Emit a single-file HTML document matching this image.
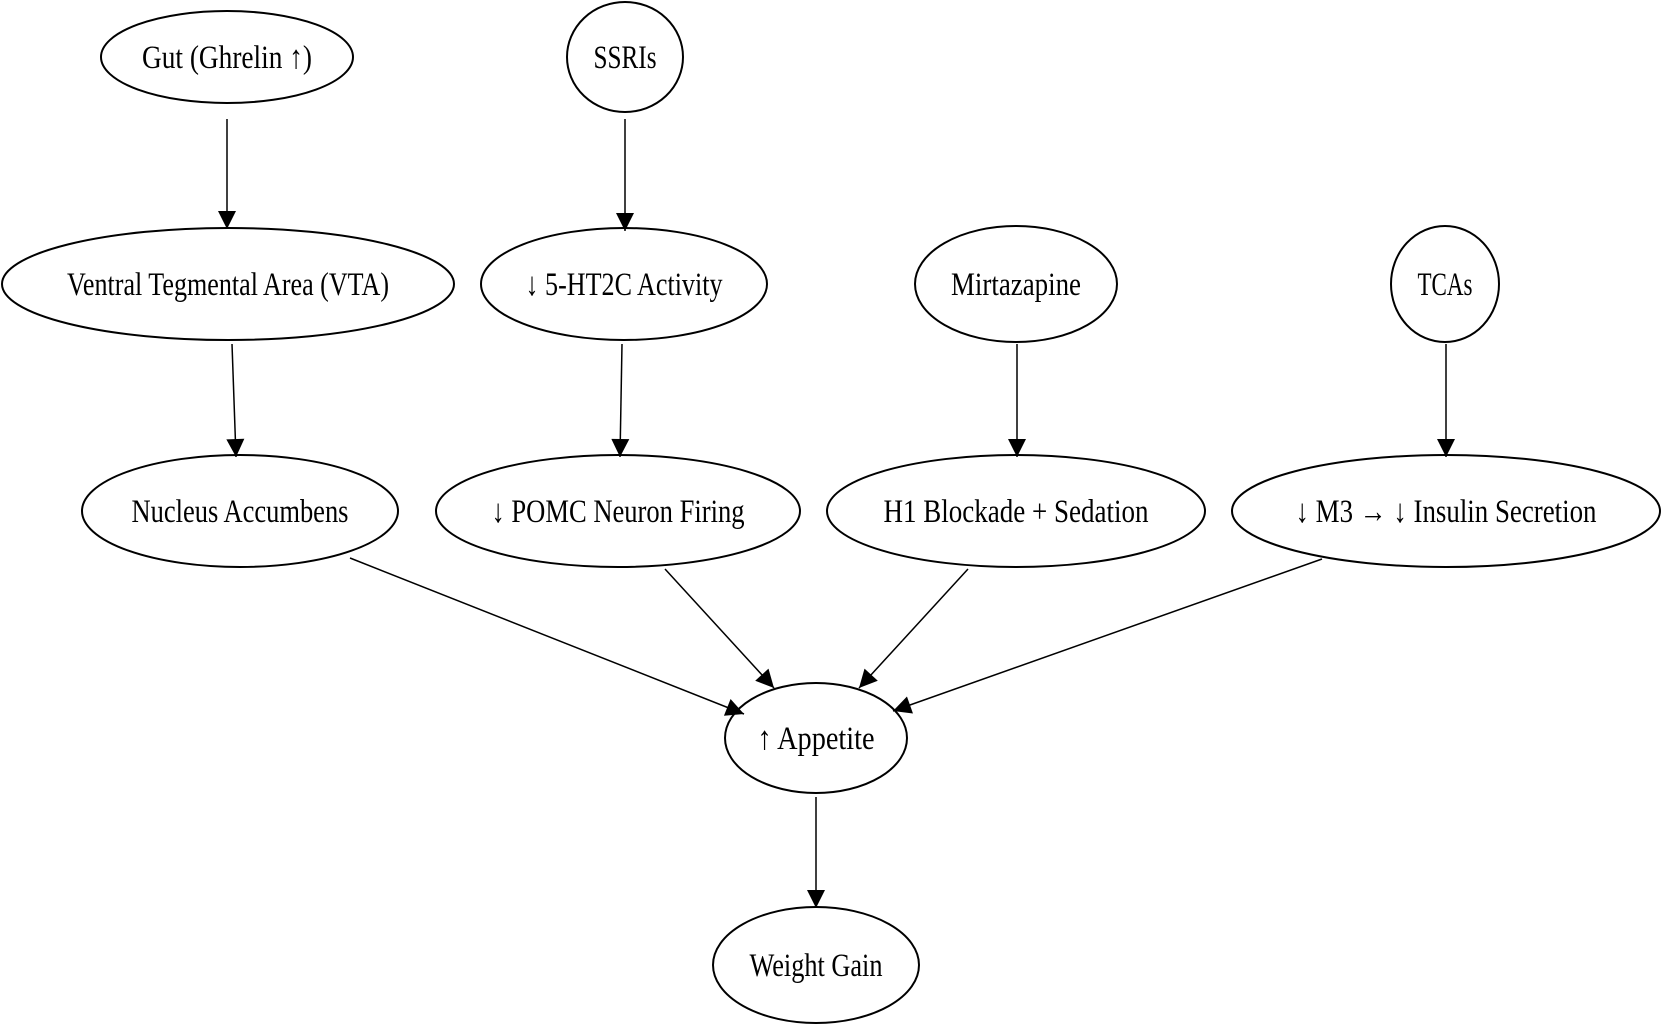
<!DOCTYPE html>
<html><head><meta charset="utf-8"><style>html,body{margin:0;padding:0;background:#fff}svg{display:block}</style></head>
<body>
<svg width="1661" height="1026" viewBox="0 0 1661 1026" xmlns="http://www.w3.org/2000/svg">
<defs><marker id="a" viewBox="0 0 10 10" refX="10" refY="5" markerWidth="10" markerHeight="10" markerUnits="userSpaceOnUse" orient="auto"><path d="M0,0 L10,5 L0,10 z" fill="#000"/></marker>
<marker id="b" viewBox="0 0 10 10" refX="10" refY="5" markerWidth="22" markerHeight="18" markerUnits="userSpaceOnUse" orient="auto"><path d="M0,0 L10,5 L0,10 z" fill="#000"/></marker></defs>
<g fill="none" stroke="#000" stroke-width="2">
<ellipse cx="227" cy="57" rx="126" ry="46"/>
<ellipse cx="625" cy="57" rx="58" ry="55"/>
<ellipse cx="228" cy="284" rx="226" ry="56"/>
<ellipse cx="624" cy="284" rx="143" ry="56"/>
<ellipse cx="1016" cy="284" rx="101" ry="58"/>
<ellipse cx="1445" cy="284" rx="54" ry="58"/>
<ellipse cx="240" cy="511" rx="158" ry="56"/>
<ellipse cx="618" cy="511" rx="182" ry="56"/>
<ellipse cx="1016" cy="511" rx="189" ry="56"/>
<ellipse cx="1446" cy="511" rx="214" ry="56"/>
<ellipse cx="816" cy="738" rx="91" ry="55"/>
<ellipse cx="816" cy="965" rx="103" ry="58"/>
</g>
<g stroke="#000" stroke-width="1.5" marker-end="url(#b)">
<line x1="227" y1="119" x2="227" y2="229"/>
<line x1="625" y1="119" x2="625" y2="231"/>
<line x1="232" y1="344" x2="236" y2="457"/>
<line x1="622" y1="344" x2="620" y2="457"/>
<line x1="1017" y1="344" x2="1017" y2="457"/>
<line x1="1446" y1="344" x2="1446" y2="457"/>
<line x1="350" y1="558" x2="744" y2="714"/>
<line x1="665" y1="569" x2="774" y2="688"/>
<line x1="968" y1="569" x2="859" y2="688"/>
<line x1="1322" y1="559" x2="893" y2="711"/>
<line x1="816" y1="797" x2="816" y2="908"/>
</g>
<g font-family="Liberation Serif, DejaVu Serif, serif" font-size="33" text-anchor="middle" fill="#000" lengthAdjust="spacingAndGlyphs">
<text x="227" y="68" textLength="170" lengthAdjust="spacingAndGlyphs">Gut (Ghrelin ↑)</text>
<text x="625" y="68" textLength="63" lengthAdjust="spacingAndGlyphs">SSRIs</text>
<text x="228" y="295" textLength="322" lengthAdjust="spacingAndGlyphs">Ventral Tegmental Area (VTA)</text>
<text x="624" y="295" textLength="197" lengthAdjust="spacingAndGlyphs">↓ 5-HT2C Activity</text>
<text x="1016" y="295" textLength="130" lengthAdjust="spacingAndGlyphs">Mirtazapine</text>
<text x="1445" y="295" textLength="55" lengthAdjust="spacingAndGlyphs">TCAs</text>
<text x="240" y="522" textLength="217" lengthAdjust="spacingAndGlyphs">Nucleus Accumbens</text>
<text x="618" y="522" textLength="253" lengthAdjust="spacingAndGlyphs">↓ POMC Neuron Firing</text>
<text x="1016" y="522" textLength="265" lengthAdjust="spacingAndGlyphs">H1 Blockade + Sedation</text>
<text x="1446" y="522" textLength="301" lengthAdjust="spacingAndGlyphs">↓ M3 → ↓ Insulin Secretion</text>
<text x="816" y="749" textLength="117" lengthAdjust="spacingAndGlyphs">↑ Appetite</text>
<text x="816" y="976" textLength="133" lengthAdjust="spacingAndGlyphs">Weight Gain</text>
</g>
</svg>
</body></html>
